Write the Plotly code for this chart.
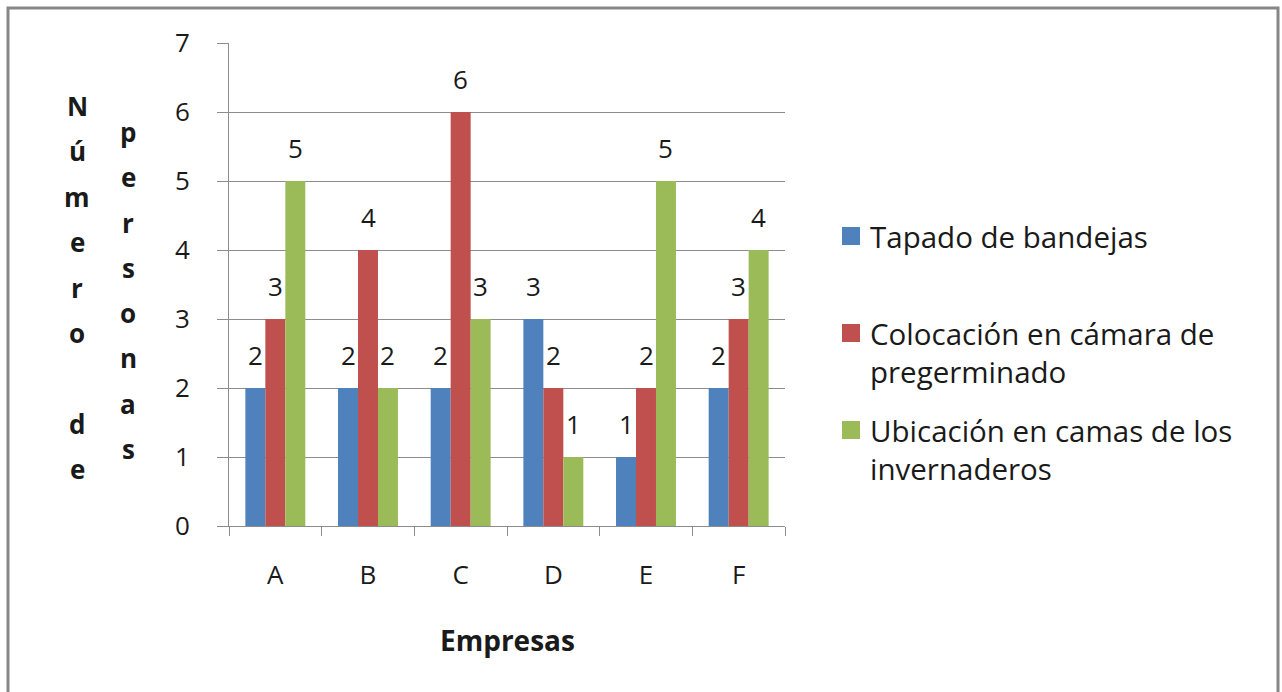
import textwrap
import plotly.graph_objects as go

# ---- data ----
empresas = ["A", "B", "C", "D", "E", "F"]
series_names = [
    "Tapado de bandejas",
    "Colocación en cámara de pregerminado",
    "Ubicación en camas de los invernaderos",
]
tapado = [2, 2, 2, 3, 1, 2]
colocacion = [3, 4, 6, 2, 2, 3]
ubicacion = [5, 2, 3, 1, 5, 4]
y_ticks = [0, 1, 2, 3, 4, 5, 6, 7]
x_title = "Empresas"
y_title = ["Número de", "personas"]

series_values = [tapado, colocacion, ubicacion]
colors = ["#4F81BD", "#C0504D", "#9BBB59"]

# ---- figure geometry (pixels) ----
W, H = 1282, 692
PL, PR, PT, PB = 229, 785, 43, 526  # plot area edges
pw, ph = PR - PL, PB - PT


def px(x):
    return (x - PL) / pw


def py(y):
    return (PB - y) / ph


FONT = "Open Sans"
GRID = "#8C8C8C"
TXT = "#1a1a1a"

fig = go.Figure()
for name, vals, col in zip(series_names, series_values, colors):
    fig.add_trace(go.Bar(
        x=empresas, y=vals, name=name,
        marker=dict(color=col, line=dict(width=0)),
        showlegend=False, hoverinfo="skip",
    ))

annotations = []
bar_px = pw / len(empresas) * (1 - 0.353) / 3
# value labels above each bar
for i, vals in enumerate(series_values):
    shift = (i - 1) * bar_px
    for cat, v in zip(empresas, vals):
        annotations.append(dict(
            x=cat, y=v, xref="x", yref="y", text=str(v), showarrow=False,
            xshift=shift, yshift=33, yanchor="middle",
            font=dict(family=FONT, size=26, color=TXT),
        ))

# x axis title
annotations.append(dict(
    x=px(507), y=py(640), xref="paper", yref="paper", text=f"<b>{x_title}</b>",
    showarrow=False, xanchor="center", yanchor="middle",
    font=dict(family=FONT, size=28, color=TXT),
))

# stacked-letter y axis title, two columns
col_specs = [(77, 106, 45.4), (128, 132, 45.3)]
for word, (cx, y0, step) in zip(y_title, col_specs):
    for k, ch in enumerate(word):
        if ch == " ":
            continue
        annotations.append(dict(
            x=px(cx), y=py(y0 + k * step), xref="paper", yref="paper",
            text=f"<b>{ch}</b>", showarrow=False, xanchor="center", yanchor="middle",
            font=dict(family=FONT, size=26, color=TXT),
        ))

# legend
shapes = []
leg_centers = [236, 333, 430]
for name, col, cy in zip(series_names, colors, leg_centers):
    shapes.append(dict(
        type="rect", xref="paper", yref="paper",
        x0=px(842), x1=px(860), y0=py(cy - 9), y1=py(cy + 9),
        fillcolor=col, line=dict(width=0),
    ))
    for j, line in enumerate(textwrap.wrap(name, width=25)):
        annotations.append(dict(
            x=px(868), y=py(cy + j * 38), xref="paper", yref="paper",
            text=line, showarrow=False, xanchor="left", yanchor="middle",
            font=dict(family=FONT, size=29.5, color=TXT),
        ))

# outer frame
shapes.append(dict(
    type="rect", xref="paper", yref="paper",
    x0=px(8), x1=px(1278), y0=py(8), y1=py(700),
    line=dict(color="#878787", width=3), fillcolor="rgba(0,0,0,0)", layer="below",
))

fig.update_layout(
    width=W, height=H,
    margin=dict(l=PL, r=W - PR, t=PT, b=H - PB, pad=0),
    paper_bgcolor="white", plot_bgcolor="white",
    barmode="group", bargap=0.353, bargroupgap=0,
    annotations=annotations, shapes=shapes,
    font=dict(family=FONT, color=TXT),
    xaxis=dict(
        type="category", tickson="boundaries", ticks="outside", ticklen=9,
        tickcolor=GRID, tickwidth=1, showgrid=False,
        showline=True, linecolor=GRID, linewidth=1,
        tickfont=dict(family=FONT, size=26, color=TXT), ticklabelstandoff=26,
    ),
    yaxis=dict(
        range=[0, 7], tickvals=y_ticks, ticks="outside", ticklen=11,
        tickcolor=GRID, tickwidth=1, showgrid=True, gridcolor=GRID, gridwidth=1,
        showline=True, linecolor=GRID, linewidth=1, zeroline=False,
        tickfont=dict(family=FONT, size=26, color=TXT), ticklabelstandoff=22,
    ),
)

fig.write_html("out.html")
